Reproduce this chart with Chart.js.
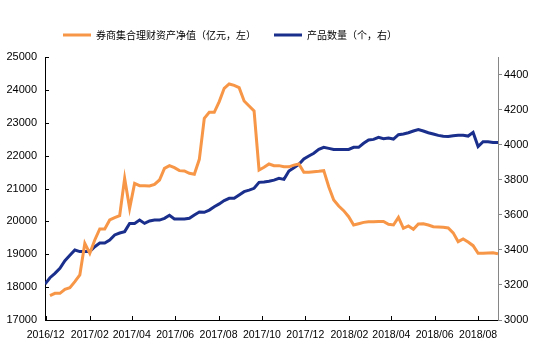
<!DOCTYPE html>
<html>
<head>
<meta charset="utf-8">
<script src="https://cdn.jsdelivr.net/npm/chart.js@4"></script>
<style>
  body { margin: 0; background: #fff; }
</style>
</head>
<body>
<canvas id="chart" width="542" height="354"></canvas>
<script>
// weekly observations, first week ending 2016-11-30
const firstWeek = '2016-11-30';
const weekCount = 92;

// 券商集合理财资产净值（亿元） - starts one week after the product count
const assetValue = [null,
  17740, 17811, 17811, 17933, 17984, 18166, 18369, 19332, 19028, 19434,
  19768, 19768, 20042, 20113, 20174, 21310, 20397, 21157, 21086, 21086,
  21076, 21127, 21259, 21614, 21695, 21634, 21543, 21533, 21462, 21431,
  21888, 23135, 23317, 23317, 23642, 24047, 24179, 24139, 24068, 23662,
  23510, 23358, 21563, 21644, 21746, 21695, 21695,
  21660, 21660, 21710, 21746, 21492, 21492, 21512, 21525, 21543, 21056,
  20650, 20468, 20326, 20143, 19890, 19930, 19970, 19991, 19991, 19995,
  19997, 19910, 19890, 20123, 19788, 19859, 19758, 19920, 19930, 19890,
  19839, 19830, 19820, 19800, 19650, 19383, 19464, 19373, 19261, 19028,
  19030, 19040, 19048, 19018
];

// 产品数量（个）
const productCount = [
  3205, 3241, 3266, 3295, 3338, 3369, 3399, 3390, 3390, 3390,
  3418, 3439, 3439, 3456, 3485, 3496, 3504, 3551, 3551, 3570,
  3551, 3565, 3570, 3570, 3580, 3597, 3576, 3576, 3576, 3580,
  3599, 3616, 3614, 3627, 3646, 3662, 3681, 3694, 3694, 3713,
  3732, 3741, 3751, 3785, 3787, 3791, 3798, 3808,
  3802, 3850, 3869, 3888, 3918, 3935, 3951, 3973, 3985, 3979,
  3973, 3973, 3973, 3973, 3985, 3985, 4008, 4027, 4030, 4042,
  4034, 4038, 4032, 4057, 4061, 4068, 4078, 4086, 4078, 4068,
  4061, 4053, 4048, 4046, 4051, 4053, 4053, 4049, 4070, 3989,
  4017, 4017, 4013, 4013
];

const tickLabels = ['2016/12', '2017/02', '2017/04', '2017/06', '2017/08', '2017/10',
  '2017/12', '2018/02', '2018/04', '2018/06', '2018/08'];
const leftTicks = [17000, 18000, 19000, 20000, 21000, 22000, 23000, 24000, 25000];
const rightTicks = [3000, 3200, 3400, 3600, 3800, 4000, 4200, 4400];

const seriesNames = ['券商集合理财资产净值（亿元，左）', '产品数量（个，右）'];

// x axis in days since 2016-12-01
const DAY = 86400000;
const base = Date.UTC(2016, 11, 1);
function dayOf(str) {
  const p = str.split(/[-\/]/).map(Number);
  return (Date.UTC(p[0], p[1] - 1, p[2] || 1) - base) / DAY;
}
const weekDays = [];
for (let i = 0; i < weekCount; i++) weekDays.push(dayOf(firstWeek) + 7 * i);

const toPoints = vals => vals.map((v, i) => ({ x: weekDays[i], y: v }));

// short tick marks pointing into the plot (left and bottom axes)
const innerTicks = {
  id: 'innerTicks',
  afterDraw(chart) {
    const { ctx, scales: { x, y } } = chart;
    ctx.save();
    ctx.strokeStyle = '#000';
    ctx.lineWidth = 1;
    ctx.beginPath();
    y.ticks.forEach(t => {
      const py = Math.round(y.getPixelForValue(t.value)) + 0.5;
      ctx.moveTo(y.right, py);
      ctx.lineTo(y.right + 4, py);
    });
    x.ticks.forEach(t => {
      const px = Math.round(x.getPixelForValue(t.value)) + 0.5;
      ctx.moveTo(px, x.top);
      ctx.lineTo(px, x.top - 4);
    });
    ctx.stroke();
    ctx.restore();
  }
};

Chart.defaults.color = '#000';
Chart.defaults.font.family = '"Liberation Sans", Arial, sans-serif';

new Chart(document.getElementById('chart').getContext('2d'), {
  type: 'line',
  data: {
    datasets: [
      {
        label: seriesNames[0],
        data: toPoints(assetValue),
        yAxisID: 'y',
        borderColor: '#F79646',
        backgroundColor: '#F79646',
        borderWidth: 3,
        pointRadius: 0,
        tension: 0,
        pointStyle: 'line'
      },
      {
        label: seriesNames[1],
        data: toPoints(productCount),
        yAxisID: 'y1',
        borderColor: '#1A2E8C',
        backgroundColor: '#1A2E8C',
        borderWidth: 3,
        pointRadius: 0,
        tension: 0,
        pointStyle: 'line'
      }
    ]
  },
  options: {
    responsive: false,
    animation: false,
    layout: { padding: { top: 12, left: 0, right: 0, bottom: 0 } },
    plugins: {
      legend: {
        position: 'top',
        align: 'start',
        fullSize: false,
        labels: {
          usePointStyle: true,
          pointStyleWidth: 28,
          padding: 18,
          font: { family: '"Noto Sans CJK SC", sans-serif', size: 10 }
        }
      },
      title: {
        display: true,
        text: '',
        padding: 0,
        weight: 500,
        fullSize: false,
        font: { size: 7, lineHeight: 1 }
      },
      tooltip: { enabled: false }
    },
    scales: {
      x: {
        type: 'linear',
        min: weekDays[0],
        max: weekDays[weekDays.length - 1],
        afterBuildTicks: s => { s.ticks = tickLabels.map(l => ({ value: dayOf(l) })); },
        afterFit: s => { s.height = 34; },
        grid: { display: false, drawTicks: false },
        border: { display: true, color: '#000', width: 1 },
        ticks: {
          autoSkip: false,
          maxRotation: 0,
          padding: 9,
          font: { size: 10.5 },
          callback: (v, i) => tickLabels[i]
        }
      },
      y: {
        position: 'left',
        min: leftTicks[0],
        max: leftTicks[leftTicks.length - 1],
        afterBuildTicks: s => { s.ticks = leftTicks.map(v => ({ value: v })); },
        afterFit: s => { s.width = 45; },
        grid: { display: false, drawTicks: false },
        border: { display: true, color: '#000', width: 1 },
        ticks: { padding: 8, font: { size: 11 }, callback: v => String(v) }
      },
      y1: {
        position: 'right',
        min: 3000,
        max: 4500,
        afterBuildTicks: s => { s.ticks = rightTicks.map(v => ({ value: v })); },
        afterFit: s => { s.width = 44; },
        grid: { display: true, drawOnChartArea: false, drawTicks: true, tickLength: 4, color: '#868686' },
        border: { display: true, color: '#868686', width: 1 },
        ticks: { padding: 2, font: { size: 11 }, callback: v => String(v) }
      }
    }
  },
  plugins: [innerTicks]
});
</script>
</body>
</html>
